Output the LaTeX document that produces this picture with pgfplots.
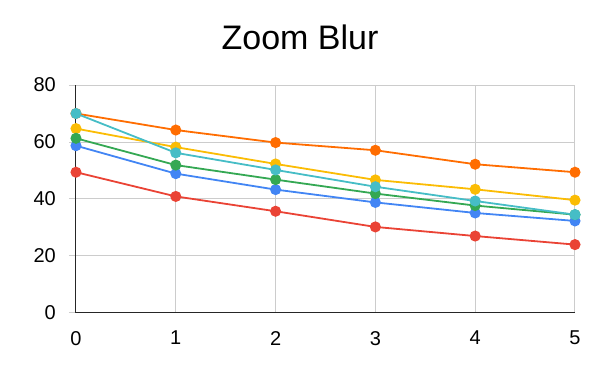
\documentclass[border=0pt]{standalone}
\usepackage{fontspec}
\setmainfont{Liberation Sans}
\usepackage{pgfplots}
\pgfplotsset{compat=1.18}
\definecolor{gblue}{HTML}{4285F4}
\definecolor{gred}{HTML}{EA4335}
\definecolor{gyellow}{HTML}{FBBC04}
\definecolor{ggreen}{HTML}{34A853}
\definecolor{gorange}{HTML}{FF6D01}
\definecolor{gcyan}{HTML}{46BDC6}
\definecolor{ggrid}{HTML}{CCCCCC}
\begin{document}
\begin{tikzpicture}[x=1pt,y=1pt]
\useasboundingbox (0,0) rectangle (600,371);
\node[anchor=base, font=\fontsize{34}{40}\selectfont] at (300,321) {Zoom Blur};
\begin{axis}[
  at={(76pt,58pt)}, anchor=south west,
  scale only axis, width=499pt, height=228pt,
  xmin=0, xmax=5, ymin=0, ymax=80,
  xtick={0,1,2,3,4,5}, ytick={0,20,40,60,80},
  grid=major, major grid style={ggrid, line width=1pt},
  axis x line=bottom, axis y line=left,
  axis line style={-, black!85, line width=1pt},
  x tick style={draw=none},
  y tick style={ggrid, line width=1pt},
  tick align=outside, major tick length=7pt,
  ticklabel style={font=\fontsize{20}{24}\selectfont},
  /pgf/number format/assume math mode=true,
  xticklabel style={inner sep=0pt, yshift=-11pt},
  yticklabel style={inner sep=0pt, xshift=-13pt},
  every axis plot/.append style={line width=1.8pt, mark=*, mark size=4.6pt, mark options={solid}},
  clip=false,
]
\addplot[gblue, mark options={fill=gblue}] coordinates {(0,58.7) (1,48.9) (2,43.3) (3,38.8) (4,35.1) (5,32.3)};
\addplot[gred, mark options={fill=gred}] coordinates {(0,49.4) (1,40.9) (2,35.7) (3,30.2) (4,27.0) (5,24.0)};
\addplot[gyellow, mark options={fill=gyellow}] coordinates {(0,64.7) (1,58.2) (2,52.3) (3,46.7) (4,43.4) (5,39.6)};
\addplot[ggreen, mark options={fill=ggreen}] coordinates {(0,61.3) (1,51.9) (2,46.8) (3,41.9) (4,37.7) (5,34.5)};
\addplot[gorange, mark options={fill=gorange}] coordinates {(0,70.0) (1,64.2) (2,59.8) (3,57.1) (4,52.2) (5,49.4)};
\addplot[gcyan, mark options={fill=gcyan}] coordinates {(0,70.0) (1,56.2) (2,50.2) (3,44.3) (4,39.3) (5,34.5)};
\end{axis}
\end{tikzpicture}
\end{document}
